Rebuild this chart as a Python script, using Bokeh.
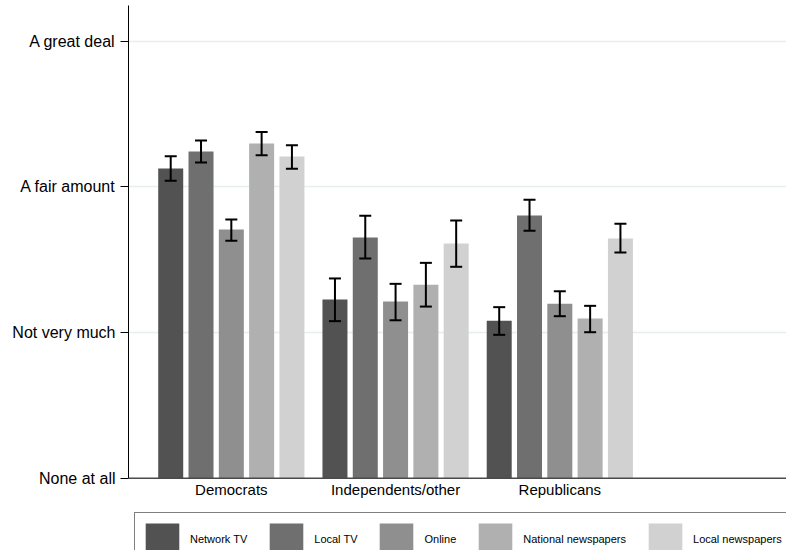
from bokeh.plotting import figure
from bokeh.models import (ColumnDataSource, Range1d, FixedTicker, Whisker, TeeHead,
                          Legend, LegendItem, Span)
from bokeh.core.properties import value
from bokeh.embed import file_html
from bokeh.resources import INLINE

# ---------------- data ----------------
groups = ["Democrats", "Independents/other", "Republicans"]
series = ["Network TV", "Local TV", "Online", "National newspapers", "Local newspapers"]
y_tick_labels = ["None at all", "Not very much", "A fair amount", "A great deal"]

network_tv = [3.126, 2.226, 2.080]
local_tv = [3.242, 2.652, 2.803]
online = [2.707, 2.213, 2.197]
national_newspapers = [3.297, 2.327, 2.096]
local_newspapers = [3.208, 2.611, 2.645]

network_tv_lo = [3.041, 2.078, 1.984]
network_tv_hi = [3.210, 2.371, 2.174]
local_tv_lo = [3.167, 2.508, 2.698]
local_tv_hi = [3.318, 2.801, 2.911]
online_lo = [2.629, 2.084, 2.112]
online_hi = [2.776, 2.334, 2.283]
national_newspapers_lo = [3.217, 2.178, 2.002]
national_newspapers_hi = [3.377, 2.478, 2.183]
local_newspapers_lo = [3.124, 2.451, 2.549]
local_newspapers_hi = [3.286, 2.769, 2.746]

values = [network_tv, local_tv, online, national_newspapers, local_newspapers]
lows = [network_tv_lo, local_tv_lo, online_lo, national_newspapers_lo, local_newspapers_lo]
highs = [network_tv_hi, local_tv_hi, online_hi, national_newspapers_hi, local_newspapers_hi]

# ---------------- style ----------------
colors = ["#525252", "#6f6f6f", "#8f8f8f", "#b0b0b0", "#d1d1d1"]
FONT = "Liberation Sans"
GROUP_GAP = 0.42
BAR_W = 0.825
n = len(series)
Y_BASE = 1

p = figure(width=786, height=550, output_backend="svg", toolbar_location=None, title=None,
           x_range=Range1d(-1.393, 20.32), y_range=Range1d(0.5038, 4.2444),
           x_axis_location=None,
           min_border_left=128, min_border_right=0, min_border_top=5, min_border_bottom=0)
p.outline_line_color = None
p.background_fill_color = "white"
p.border_fill_color = "white"

p.ygrid.ticker = FixedTicker(ticks=[2, 3, 4])
p.ygrid.grid_line_color = "#e6eef0"
p.ygrid.grid_line_width = 1.5
p.xgrid.grid_line_color = None

items = []
for k, name in enumerate(series):
    xs = [g * (n + GROUP_GAP) + k for g in range(len(groups))]
    src = ColumnDataSource(dict(x=xs, top=values[k], lo=lows[k], hi=highs[k]))
    r = p.vbar(x="x", top="top", bottom=Y_BASE, width=BAR_W, source=src,
               fill_color=colors[k], line_color=None)
    items.append(LegendItem(label=name, renderers=[r]))
    w = Whisker(base="x", upper="hi", lower="lo", source=src, dimension="height",
                line_color="black", line_width=2, level="overlay",
                upper_head=TeeHead(size=12, line_color="black", line_width=2),
                lower_head=TeeHead(size=12, line_color="black", line_width=2))
    p.add_layout(w)

# x axis line (baseline) and category labels
p.add_layout(Span(location=Y_BASE, dimension="width", line_color="#4a4a4a", line_width=1.5))
centers = [g * (n + GROUP_GAP) + (n - 1) / 2 for g in range(len(groups))]
p.text(x=centers, y=[Y_BASE] * len(groups), text=groups, text_align="center",
       text_baseline="top", y_offset=3, text_font=value(FONT), text_font_size="15px",
       text_color="black")

# y axis
p.yaxis.bounds = (1, 4.2444)
p.yaxis.ticker = FixedTicker(ticks=[1, 2, 3, 4])
p.yaxis.major_label_overrides = {i + 1: t for i, t in enumerate(y_tick_labels)}
p.yaxis.major_label_text_font = FONT
p.yaxis.major_label_text_font_size = "16px"
p.yaxis.major_label_text_color = "black"
p.yaxis.major_tick_out = 8
p.yaxis.major_tick_in = 0
p.yaxis.minor_tick_out = 0
p.yaxis.minor_tick_in = 0
p.yaxis.major_label_standoff = 5
p.yaxis.axis_line_color = "black"
p.yaxis.major_tick_line_color = "black"

legend = Legend(items=items, orientation="horizontal", location=(6, -16),
                glyph_width=42, glyph_height=40, label_standoff=7, spacing=18,
                padding=6, margin=0,
                label_text_font=FONT, label_text_font_size="11px", label_text_color="black",
                border_line_color="black", border_line_width=1,
                background_fill_color="white", background_fill_alpha=1.0)
p.add_layout(legend)

open("out.html", "w").write(file_html(p, INLINE))
